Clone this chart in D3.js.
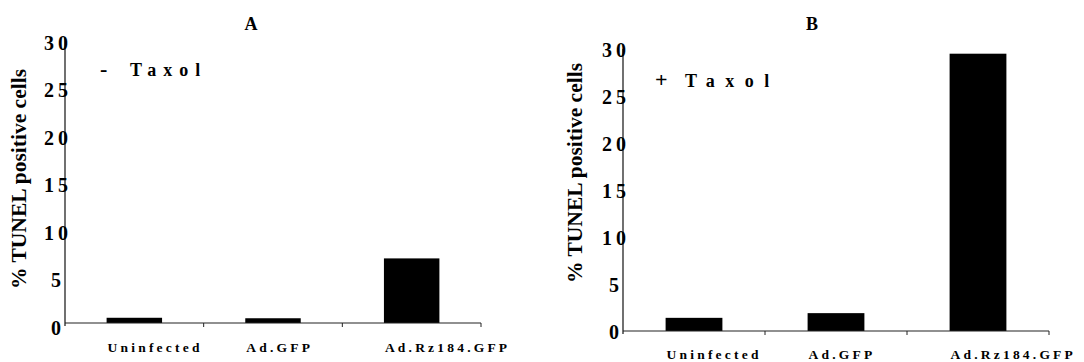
<!DOCTYPE html>
<html>
<head>
<meta charset="utf-8">
<script src="https://cdn.jsdelivr.net/npm/d3@7"></script>
<style>
  body { margin: 0; background: #fff; }
  svg { display: block; }
</style>
</head>
<body>
<div id="chart"></div>
<script>
// data
var categories = ['Uninfected', 'Ad.GFP', 'Ad.Rz184.GFP'];
var valuesA = [0.55, 0.5, 6.8];   // - Taxol
var valuesB = [1.4, 1.9, 29.5];   // + Taxol
var yTicks = [0, 5, 10, 15, 20, 25, 30];
var panelTitles = ['A', 'B'];
var treatmentSigns = ['-', '+'];
var yTitle = '% TUNEL positive cells';

var FONT = "'Liberation Serif', 'DejaVu Serif', serif";

var svg = d3.select('#chart').append('svg')
    .attr('width', 1084)
    .attr('height', 362)
    .attr('font-family', FONT)
    .attr('font-weight', 'bold');

// layout of each panel (pixels)
var panels = [
    {values: valuesA, title: panelTitles[0], sign: treatmentSigns[0],
     x0: 65, x1: 481, yBase: 323, yTop: 38, labelDy: 5, catY: 352,
     titleX: 251, yTitleX: 19, yTitleY: 179,
     signX: 100, taxolX: 130, taxolY: 76, taxolSpacing: 7},
    {values: valuesB, title: panelTitles[1], sign: treatmentSigns[1],
     x0: 623, x1: 1049, yBase: 331, yTop: 49, labelDy: 1, catY: 359,
     titleX: 812, yTitleX: 575, yTitleY: 173,
     signX: 655, taxolX: 685, taxolY: 87, taxolSpacing: 10.5}
];

panels.forEach(function(p) {
    var g = svg.append('g');

    var x = d3.scaleBand()
        .domain(categories)
        .range([p.x0, p.x1])
        .paddingInner(0.6)
        .paddingOuter(0.3);

    var y = d3.scaleLinear()
        .domain([0, 30])
        .range([p.yBase, p.yTop]);

    // bars
    g.selectAll('.bar')
        .data(p.values)
        .enter().append('rect')
        .attr('class', 'bar')
        .attr('x', (d, i) => x(categories[i]))
        .attr('y', d => y(d))
        .attr('width', x.bandwidth())
        .attr('height', d => y(0) - y(d))
        .attr('fill', '#000');

    // y axis line
    g.append('line')
        .attr('x1', p.x0).attr('x2', p.x0)
        .attr('y1', y(30)).attr('y2', y(0) + 3)
        .attr('stroke', '#111').attr('stroke-width', 1.2);

    // x axis line + ticks between bands
    g.append('line')
        .attr('x1', p.x0).attr('x2', p.x1)
        .attr('y1', y(0)).attr('y2', y(0))
        .attr('stroke', '#222').attr('stroke-width', 1.2);

    var step = x.step();
    g.selectAll('.xtick')
        .data(d3.range(1, categories.length + 1))
        .enter().append('line')
        .attr('class', 'xtick')
        .attr('x1', i => p.x0 + i * step).attr('x2', i => p.x0 + i * step)
        .attr('y1', y(0)).attr('y2', y(0) + 4)
        .attr('stroke', '#222').attr('stroke-width', 1);

    // y tick labels (no tick marks, digits spread out)
    g.selectAll('.ylab')
        .data(yTicks)
        .enter().append('text')
        .attr('class', 'ylab')
        .attr('x', p.x0 - 9 + 2)
        .attr('y', d => y(d) + p.labelDy)
        .attr('dy', '0.34em')
        .attr('text-anchor', 'middle')
        .attr('font-size', 20)
        .attr('letter-spacing', 4)
        .text(d => d);

    // category labels, left-aligned to bars
    g.selectAll('.xlab')
        .data(categories)
        .enter().append('text')
        .attr('class', 'xlab')
        .attr('x', d => x(d) + 1)
        .attr('y', p.catY)
        .attr('font-size', 13.5)
        .attr('letter-spacing', 3.2)
        .text(d => d);

    // panel title
    g.append('text')
        .attr('x', p.titleX)
        .attr('y', 30)
        .attr('text-anchor', 'middle')
        .attr('font-size', 18)
        .text(p.title);

    // y title
    g.append('text')
        .attr('transform', 'translate(' + (p.yTitleX + 7) + ',' + p.yTitleY + ') rotate(-90)')
        .attr('text-anchor', 'middle')
        .attr('font-size', 21.5)
        .text(yTitle);

    // treatment label
    g.append('text')
        .attr('x', p.signX)
        .attr('y', p.taxolY)
        .attr('font-size', 22)
        .text(p.sign);
    g.append('text')
        .attr('x', p.taxolX)
        .attr('y', p.taxolY)
        .attr('font-size', 18)
        .attr('letter-spacing', p.taxolSpacing)
        .text('Taxol');
});
</script>
</body>
</html>
